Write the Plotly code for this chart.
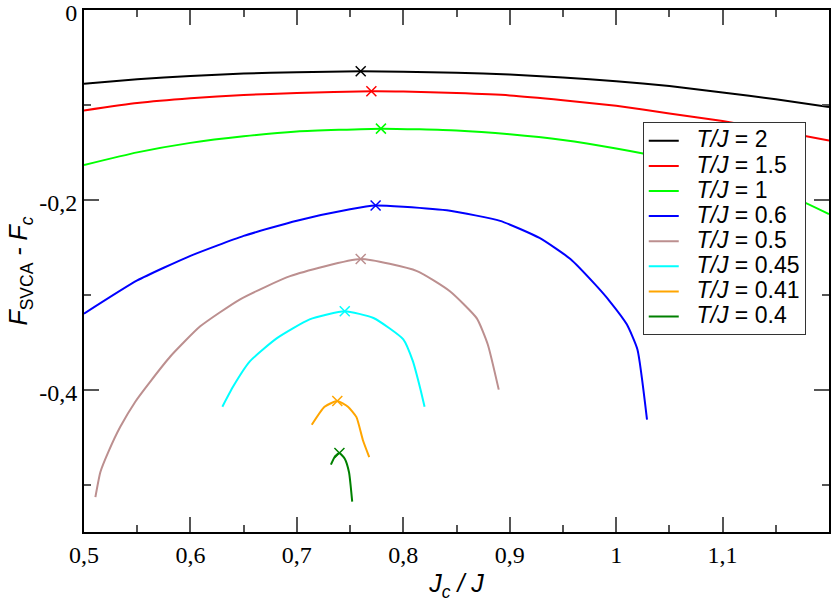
import plotly.graph_objects as go

# ---- data ----
labels = ["2", "1.5", "1", "0.6", "0.5", "0.45", "0.41", "0.4"]
colors = ["#000000", "#ff0000", "#00ff00", "#0000ff", "#bc8f8f", "#00ffff", "#ffa500", "#008000"]

x_T2 = [0.5, 0.55, 0.6, 0.65, 0.7, 0.76, 0.8, 0.85, 0.9, 0.95, 1.0, 1.05, 1.1, 1.15, 1.2]
y_T2 = [-0.0776, -0.073, -0.0695, -0.067, -0.0655, -0.0645, -0.065, -0.066, -0.068, -0.071, -0.075, -0.080, -0.087, -0.094, -0.1023]

x_T15 = [0.5, 0.55, 0.6, 0.65, 0.7, 0.77, 0.8, 0.85, 0.9, 0.95, 1.0, 1.05, 1.1, 1.15, 1.2]
y_T15 = [-0.1058, -0.098, -0.093, -0.0895, -0.0875, -0.0857, -0.086, -0.0875, -0.090, -0.095, -0.101, -0.109, -0.117, -0.127, -0.1376]

x_T1 = [0.5, 0.55, 0.6, 0.65, 0.7, 0.78, 0.85, 0.9, 0.95, 1.0, 1.05, 1.1, 1.15, 1.2]
y_T1 = [-0.1633, -0.150, -0.140, -0.133, -0.128, -0.125, -0.127, -0.131, -0.137, -0.146, -0.157, -0.171, -0.189, -0.215]

x_T06 = [0.5, 0.55, 0.6, 0.65, 0.7, 0.75, 0.774, 0.800, 0.844, 0.891, 0.928, 0.957, 0.980, 0.994, 1.010, 1.020, 1.029]
y_T06 = [-0.320, -0.285, -0.259, -0.238, -0.222, -0.210, -0.206, -0.2074, -0.2116, -0.2222, -0.2402, -0.2624, -0.2889, -0.3069, -0.3312, -0.3577, -0.4317]

x_T05 = [0.5107, 0.5154, 0.5229, 0.5341, 0.5482, 0.5623, 0.5811, 0.6092, 0.6467, 0.6936, 0.760, 0.8129, 0.8438, 0.8691, 0.8794, 0.8897]
y_T05 = [-0.5132, -0.4868, -0.4656, -0.4392, -0.4127, -0.3915, -0.3651, -0.3333, -0.3048, -0.2804, -0.2624, -0.2751, -0.2963, -0.3249, -0.3524, -0.400]

x_T045 = [0.630, 0.640, 0.656, 0.681, 0.712, 0.745, 0.772, 0.800, 0.809, 0.816, 0.820]
y_T045 = [-0.418, -0.397, -0.370, -0.346, -0.326, -0.3175, -0.3245, -0.347, -0.370, -0.399, -0.418]

x_T041 = [0.714, 0.726, 0.738, 0.748, 0.756, 0.762, 0.768]
y_T041 = [-0.437, -0.418, -0.412, -0.418, -0.429, -0.453, -0.471]

x_T04 = [0.732, 0.736, 0.740, 0.745, 0.749, 0.752]
y_T04 = [-0.479, -0.470, -0.4667, -0.4727, -0.487, -0.518]

# peak markers
peak_x = [0.760, 0.770, 0.779, 0.774, 0.760, 0.745, 0.738, 0.740]
peak_y = [-0.0645, -0.0857, -0.125, -0.206, -0.2624, -0.3175, -0.412, -0.4667]

x_tickvals = [0.5, 0.6, 0.7, 0.8, 0.9, 1.0, 1.1]
x_ticktext = ["0,5", "0,6", "0,7", "0,8", "0,9", "1", "1,1"]
y_tickvals = [0, -0.2, -0.4]
y_ticktext = ["0", "-0,2", "-0,4"]

series_x = [x_T2, x_T15, x_T1, x_T06, x_T05, x_T045, x_T041, x_T04]
series_y = [y_T2, y_T15, y_T1, y_T06, y_T05, y_T045, y_T041, y_T04]

SANS = "Liberation Sans, Arial, Helvetica, sans-serif"
SERIF = "Liberation Serif, Times New Roman, Times, serif"

fig = go.Figure()
for lab, col, xs, ys in zip(labels, colors, series_x, series_y):
    fig.add_trace(go.Scatter(x=xs, y=ys, mode="lines",
                             name="<span style='font-size:23px'>&nbsp;&nbsp;<i>T/J</i> = " + lab + "</span>",
                             line=dict(color=col, width=2, shape="spline", smoothing=0.5)))
for col, px, py in zip(colors, peak_x, peak_y):
    fig.add_trace(go.Scatter(x=[px], y=[py], mode="markers", showlegend=False,
                             marker=dict(symbol="x-thin-open", size=10, color=col,
                                         line=dict(color=col, width=1.5))))

axis_common = dict(showline=True, linewidth=2, linecolor="black", mirror="allticks",
                   ticks="inside", ticklen=15, tickwidth=1.5, tickcolor="#555",
                   showgrid=False, zeroline=False, ticklabeloverflow="allow",
                   tickfont=dict(family=SERIF, size=24, color="black"))

fig.update_xaxes(range=[0.5, 1.2], tickvals=x_tickvals, ticktext=x_ticktext,
                 minor=dict(dtick=0.05, tick0=0.5, ticks="inside", ticklen=7, tickwidth=1.5, tickcolor="#555"),
                 title=dict(text="<i>J</i><sub><i>c</i></sub><i> / J</i>", standoff=8,
                            font=dict(family=SANS, size=25, color="black")),
                 **axis_common)
fig.update_yaxes(range=[-0.55, 0], tickvals=y_tickvals, ticktext=y_ticktext,
                 ticklabelshift=3,
                 minor=dict(dtick=0.1, tick0=0, ticks="inside", ticklen=7, tickwidth=1.5, tickcolor="#555"),
                 title=dict(text="<i>F</i><sub>SVCA</sub><i> - F</i><sub><i>c</i></sub>", standoff=4,
                            font=dict(family=SANS, size=25, color="black")),
                 **axis_common)

fig.update_layout(width=831, height=605,
                  margin=dict(l=84, r=2, t=10, b=73, autoexpand=False),
                  plot_bgcolor="white", paper_bgcolor="white",
                  font=dict(family=SANS),
                  legend=dict(x=0.75, y=0.785, xanchor="left", yanchor="top",
                              bgcolor="white", bordercolor="#333", borderwidth=1,
                              font=dict(family=SANS, size=17, color="black"),
                              itemwidth=30, tracegroupgap=0))

fig.write_html("out.html", config={"displayModeBar": False},
               post_script="document.body.style.margin='0px';document.body.style.padding='0px';")
